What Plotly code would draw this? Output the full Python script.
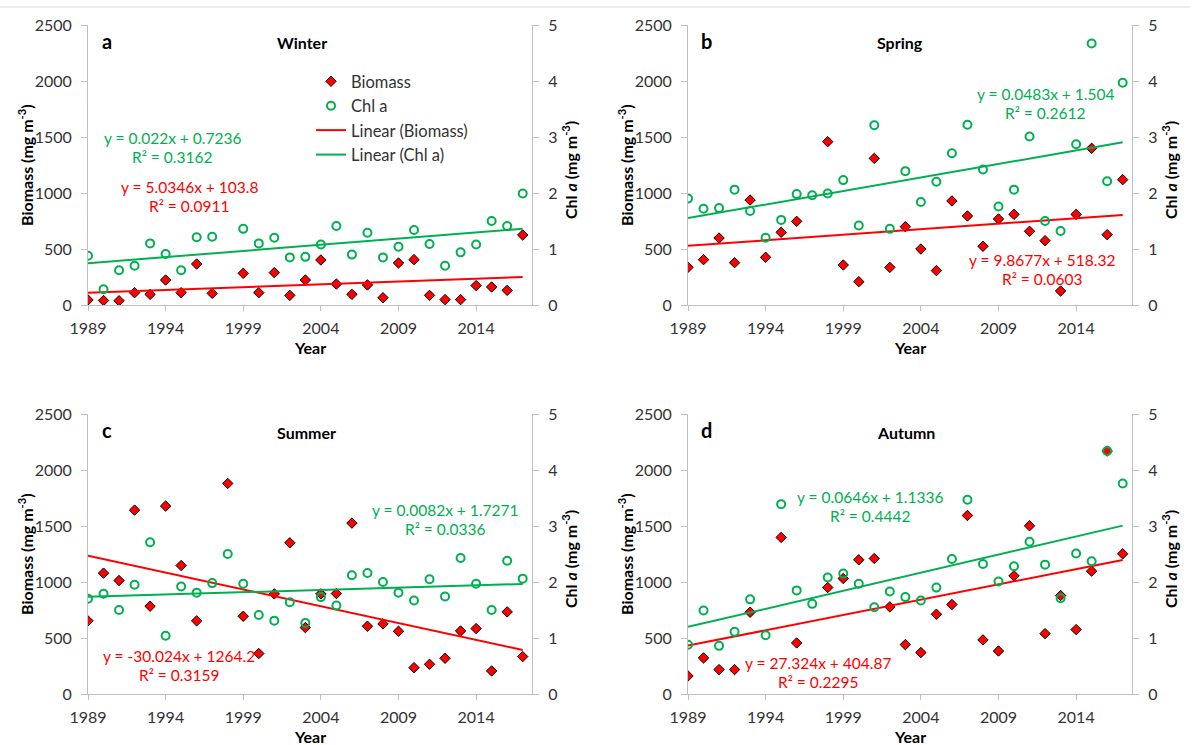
import plotly.graph_objects as go

years = list(range(1989, 2018))

winter_biomass = [45, 40, 38, 110, 95, 223, 110, 366, 104, None, 283, 110, 289, 86, 223, 402, 187, 95, 179, 65, 375, 405, 86, 48, 48, 173, 161, 131, 625]
winter_chl = [0.88, 0.28, 0.62, 0.70, 1.10, 0.91, 0.62, 1.21, 1.22, None, 1.36, 1.10, 1.20, 0.85, 0.86, 1.08, 1.41, 0.90, 1.29, 0.85, 1.04, 1.34, 1.09, 0.70, 0.94, 1.08, 1.50, 1.41, 1.99]

spring_biomass = [336, 405, 598, 378, 937, 426, 649, 747, None, 1458, 357, 208, 1309, 336, 699, 500, 307, 929, 795, 524, 768, 809, 658, 574, 125, 809, 1399, 628, 1119]
spring_chl = [1.90, 1.72, 1.73, 2.06, 1.68, 1.20, 1.52, 1.98, 1.96, 1.99, 2.23, 1.42, 3.21, 1.36, 2.39, 1.84, 2.20, 2.71, 3.22, 2.42, 1.76, 2.06, 3.01, 1.50, 1.32, 2.87, 4.67, 2.21, 3.97]

summer_biomass = [653, 1079, 1013, 1642, 784, 1678, 1147, 653, None, 1880, 694, 361, 894, 1350, 593, 894, 897, 1526, 605, 626, 560, 235, 265, 319, 563, 584, 206, 733, 334]
summer_chl = [1.70, 1.79, 1.50, 1.95, 2.71, 1.04, 1.92, 1.81, 1.98, 2.50, 1.97, 1.41, 1.31, 1.64, 1.27, 1.73, 1.58, 2.12, 2.16, 2.00, 1.81, 1.67, 2.05, 1.74, 2.43, 1.97, 1.50, 2.38, 2.06]

autumn_biomass = [161, 322, 218, 218, 730, None, 1398, 456, None, 951, 1031, 1198, 1210, 778, 441, 370, 712, 799, 1594, 483, 384, 1055, 1502, 539, 879, 575, 1097, 2169, 1252]
autumn_chl = [0.88, 1.49, 0.86, 1.11, 1.69, 1.05, 3.39, 1.85, 1.61, 2.08, 2.15, 1.97, 1.55, 1.83, 1.73, 1.67, 1.90, 2.41, 3.47, 2.32, 2.01, 2.28, 2.72, 2.31, 1.71, 2.51, 2.37, 4.34, 3.76]

# trend-line coefficients (slope, intercept) with x = year index starting at 1 for 1989
biomass_fit = {"Winter": (5.0346, 103.8), "Spring": (9.8677, 518.32), "Summer": (-30.024, 1264.2), "Autumn": (27.324, 404.87)}
chl_fit = {"Winter": (0.022, 0.7236), "Spring": (0.0483, 1.504), "Summer": (0.0082, 1.7271), "Autumn": (0.0646, 1.1336)}
biomass_r2 = {"Winter": "0.0911", "Spring": "0.0603", "Summer": "0.3159", "Autumn": "0.2295"}
chl_r2 = {"Winter": "0.3162", "Spring": "0.2612", "Summer": "0.0336", "Autumn": "0.4442"}

seasons = ["Winter", "Spring", "Summer", "Autumn"]
letters = ["a", "b", "c", "d"]
biomass_data = [winter_biomass, spring_biomass, summer_biomass, autumn_biomass]
chl_data = [winter_chl, spring_chl, summer_chl, autumn_chl]

W, H = 1200, 745
FONT = "Lato, Carlito, Calibri, sans-serif"
RED = "#FF0000"
GREEN = "#00B050"
AXIS = "#BFBFBF"
TICKC = "#333333"


def px(x):
    return x / W


def py(y):
    return 1 - y / H


# panel plot areas in pixels: (left, right, top, bottom)
panels = [(88, 532, 25, 305), (688, 1132, 25, 305), (88, 532, 414, 694), (688, 1132, 414, 694)]

fig = go.Figure()
layout = dict(
    width=W, height=H, margin=dict(l=0, r=0, t=0, b=0, autoexpand=False),
    paper_bgcolor="white", plot_bgcolor="rgba(0,0,0,0)",
    font=dict(family=FONT, size=16, color=TICKC),
    showlegend=True,
)
annotations = []


def label(x, y, text, size, color="black", angle=0, xanchor="center"):
    annotations.append(dict(x=px(x), y=py(y), xref="paper", yref="paper", text=text,
                            showarrow=False, textangle=angle, xanchor=xanchor, yanchor="middle",
                            font=dict(size=size, color=color, family=FONT)))


for i, s in enumerate(seasons):
    L, R, T, B = panels[i]
    xn = "x" if i == 0 else f"x{i + 1}"
    yl = "y" if i == 0 else f"y{2 * i + 1}"
    yr = f"y{2 * i + 2}"
    xkey = "xaxis" if i == 0 else f"xaxis{i + 1}"
    ylkey = "yaxis" if i == 0 else f"yaxis{2 * i + 1}"
    yrkey = f"yaxis{2 * i + 2}"

    layout[xkey] = dict(
        domain=[px(L), px(R)], anchor=yl, range=[1989, 2017.6], automargin=False,
        tickvals=[1989, 1994, 1999, 2004, 2009, 2014], ticks="outside", ticklen=5,
        tickcolor=AXIS, showline=True, linecolor=AXIS, linewidth=1,
        showgrid=False, zeroline=False, tickfont=dict(size=16, color=TICKC),
        ticklabelstandoff=4,
    )
    layout[ylkey] = dict(
        domain=[py(B), py(T)], anchor=xn, range=[0, 2500], tickvals=[0, 500, 1000, 1500, 2000, 2500],
        automargin=False,
        ticks="outside", ticklen=6, tickcolor=AXIS, showline=True, linecolor=AXIS, linewidth=1,
        showgrid=False, zeroline=False, tickfont=dict(size=16, color=TICKC), ticklabelstandoff=6,
    )
    layout[yrkey] = dict(
        overlaying=yl, anchor=xn, side="right", range=[0, 5], tickvals=[0, 1, 2, 3, 4, 5],
        automargin=False,
        ticks="outside", ticklen=6, tickcolor=AXIS, showline=True, linecolor=AXIS, linewidth=1,
        showgrid=False, zeroline=False, tickfont=dict(size=16, color=TICKC), ticklabelstandoff=6,
    )

    show = i == 0
    fig.add_trace(go.Scatter(
        x=years, y=biomass_data[i], mode="markers", name="Biomass", xaxis=xn, yaxis=yl,
        marker=dict(symbol="diamond", size=8, color=RED, line=dict(color="black", width=1)),
        showlegend=show, legendrank=1,
    ))
    fig.add_trace(go.Scatter(
        x=years, y=chl_data[i], mode="markers", name="Chl a", xaxis=xn, yaxis=yr,
        marker=dict(symbol="circle-open", size=8, color=GREEN, line=dict(color=GREEN, width=2)),
        showlegend=show, legendrank=2,
    ))
    bm, bb = biomass_fit[s]
    cm, cb = chl_fit[s]
    xe = [years[0], years[-1]]
    idx = [y - 1988 for y in xe]
    fig.add_trace(go.Scatter(
        x=xe, y=[bm * k + bb for k in idx], mode="lines", name="Linear (Biomass)", xaxis=xn, yaxis=yl,
        line=dict(color=RED, width=2), showlegend=show, legendrank=3,
    ))
    fig.add_trace(go.Scatter(
        x=xe, y=[cm * k + cb for k in idx], mode="lines", name="Linear (Chl a)", xaxis=xn, yaxis=yr,
        line=dict(color=GREEN, width=2), showlegend=show, legendrank=4,
    ))

    # axis titles and panel labels
    label(L - 63, (T + B) / 2, "<b>Biomass (mg m<sup>-3</sup>)</b>", 16, angle=-90)
    label(R + 37, (T + B) / 2 + 5, "<b>Chl <i>a</i> (mg m<sup>-3</sup>)</b>", 16, angle=-90)
    label((L + R) / 2, B + 42, "<b>Year</b>", 16)
    label(L + 19, T + 16, f"<b>{letters[i]}</b>", 20)
    label(L + 187, T + 18, f"<b>{s}</b>", 16, xanchor="left")

# regression equation label centres in pixels: (season, series, centre x, first-line y)
eq_pos = [
    ("Winter", "chl", 172, 138), ("Winter", "bio", 189, 187),
    ("Spring", "chl", 1045, 94), ("Spring", "bio", 1042, 260),
    ("Summer", "bio", 179, 656), ("Summer", "chl", 445, 510),
    ("Autumn", "chl", 870, 497), ("Autumn", "bio", 818, 663),
]


def fmt_eq(m, b):
    sign = "+" if b >= 0 else "-"
    return f"y = {m:g}x {sign} {abs(b):g}"


for s, kind, cx, cy in eq_pos:
    if kind == "chl":
        m, b = chl_fit[s]
        r2 = chl_r2[s]
        col = GREEN
    else:
        m, b = biomass_fit[s]
        r2 = biomass_r2[s]
        col = RED
    label(cx, cy, fmt_eq(m, b), 15.5, color=col)
    label(cx, cy + 19, f"R² = {r2}", 15.5, color=col)

layout["annotations"] = annotations
layout["legend"] = dict(x=px(311), y=py(64), xanchor="left", yanchor="top", bgcolor="rgba(0,0,0,0)",
                        font=dict(size=16.5, color=TICKC, family=FONT), borderwidth=0,
                        itemwidth=30, tracegroupgap=0)
layout["shapes"] = [dict(type="line", xref="paper", yref="paper", x0=0, x1=px(1190), y0=py(7), y1=py(7),
                         line=dict(color="#D9D9D9", width=1))]

fig.update_layout(**layout)
fig.write_html("out.html", config={"displayModeBar": False},
               post_script="document.body.style.margin='0';document.body.style.overflow='hidden';")
